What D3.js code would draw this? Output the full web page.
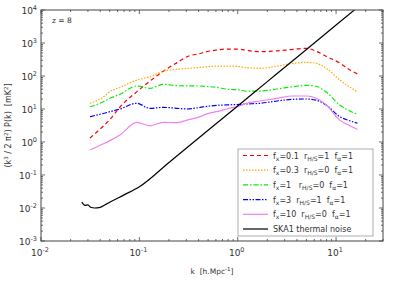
<!DOCTYPE html>
<html>
<head>
<meta charset="utf-8">
<script src="https://cdn.jsdelivr.net/npm/d3@7"></script>
<style>
body{margin:0;background:#fff;}
text{font-family:"DejaVu Sans",sans-serif;fill:#333;white-space:pre;}
</style>
</head>
<body>
<svg id="chart"></svg>
<script>
// k values (h/Mpc) shared by the model curves
var kModel = [0.0315,0.042,0.0502,0.0635,0.0939,0.128,0.175,0.24,0.305,0.415,0.486,0.61,0.776,1.05,1.23,1.68,2.51,3.65,5.0,6.3,8.0,10.9,13.5,16.5]

var fx01 = [1.32,2.85,4.8,11.5,33,70,140,250,385,480,547,610,656,645,600,547,575,645,690,560,390,247,160,115]
var fx03 = [14.9,22,33.4,45,75,95,140,160,170,182,190,200,200,192,180,171,200,241,260,241,171,75.6,48,33.4]
var fx1  = [11.7,16,21.1,28,49.8,42.4,56,51,50,49.8,48,45.4,40,37.7,35,35,40.4,47.4,52,49,32,13.2,9,6.9]
var fx3  = [5.85,7.2,8.3,10,14.9,10.5,11.2,10.5,10,11.2,12,12.9,13.3,13.8,14.2,14.9,17.5,19.7,20.1,18.5,13,5.85,4.5,3.7]
var fx10 = [0.57,0.85,1.1,1.63,3.95,3.1,3.95,3.85,4.6,5.85,7.1,8.3,10,12.5,14.9,17.5,21.1,24.8,24.8,21.1,13,4.6,3.2,2.43]

// SKA1 thermal noise
var kNoise = [0.026,0.028,0.030,0.032,0.035,0.040,0.045,0.05,0.07,0.1,0.2,0.5,1,2,5,10,20]
var noise  = [0.015,0.012,0.0125,0.0105,0.0100,0.0105,0.0125,0.015,0.025,0.044,0.24,2.27,12.4,67.7,639,3500,19100]

var seriesNames = ["fx=0.1","fx=0.3","fx=1","fx=3","fx=10","SKA1"]
var xTicks = [0.01,0.1,1,10]
var yTicks = [1e-3,1e-2,1e-1,1,10,100,1000,10000]

var screen = {width:399,height:282}
var margins = {left:41,right:16,top:10,bottom:41}
var graph = {
    width:screen.width-margins.left-margins.right,
    height:screen.height-margins.top-margins.bottom
}

var svg = d3.select("#chart")
    .attr("width",screen.width)
    .attr("height",screen.height)

var xScale = d3.scaleLog().domain([0.01,30]).range([0,graph.width])
var yScale = d3.scaleLog().domain([1e-3,1e4]).range([graph.height,0])

var target = svg.append("g")
    .attr("transform","translate("+margins.left+","+margins.top+")")

target.append("clipPath").attr("id","clip")
    .append("rect").attr("width",graph.width).attr("height",graph.height)

var line = d3.line()
    .x(function(d){return xScale(d[0])})
    .y(function(d){return yScale(d[1])})
    .curve(d3.curveMonotoneX)

var styles = [
    {name:seriesNames[0],k:kModel,v:fx01,color:"#ff0000",dash:"4,3"},
    {name:seriesNames[1],k:kModel,v:fx03,color:"#ffa500",dash:"1.5,1.5"},
    {name:seriesNames[2],k:kModel,v:fx1,color:"#00ee00",dash:"5,2,1.5,2"},
    {name:seriesNames[3],k:kModel,v:fx3,color:"#0000ff",dash:"5,1.5,1.5,1.5,1.5,1.5"},
    {name:seriesNames[4],k:kModel,v:fx10,color:"#ee82ee",dash:null},
    {name:seriesNames[5],k:kNoise,v:noise,color:"#000000",dash:null}
]

var curves = target.append("g").attr("clip-path","url(#clip)")
styles.forEach(function(s){
    var pts = s.k.map(function(k,i){return [k,s.v[i]]})
    curves.append("path")
        .attr("d",line(pts))
        .attr("fill","none")
        .attr("stroke",s.color)
        .attr("stroke-width",1.2)
        .attr("stroke-dasharray",s.dash)
})

// frame
target.append("rect")
    .attr("width",graph.width).attr("height",graph.height)
    .attr("fill","none").attr("stroke","#444").attr("stroke-width",1)

// minor + major ticks (inside, all four sides)
var xMinor = []
for(var e=-2;e<=1;e++){for(var m=1;m<10;m++){var v=m*Math.pow(10,e); if(v<=30) xMinor.push(v)}}
var yMinor = []
for(var e=-3;e<4;e++){for(var m=1;m<10;m++){yMinor.push(m*Math.pow(10,e))}}
yMinor.push(1e4)

var tickG = target.append("g").attr("stroke","#444").attr("stroke-width",0.8)
xMinor.forEach(function(v){
    var major = xTicks.some(function(t){return Math.abs(t-v)/t<1e-9})
    var len = major?4:2
    var x = xScale(v)
    tickG.append("line").attr("x1",x).attr("x2",x).attr("y1",graph.height).attr("y2",graph.height-len)
    tickG.append("line").attr("x1",x).attr("x2",x).attr("y1",0).attr("y2",len)
})
yMinor.forEach(function(v){
    var major = yTicks.some(function(t){return Math.abs(t-v)/t<1e-9})
    var len = major?4:2
    var y = yScale(v)
    tickG.append("line").attr("x1",0).attr("x2",len).attr("y1",y).attr("y2",y)
    tickG.append("line").attr("x1",graph.width).attr("x2",graph.width-len).attr("y1",y).attr("y2",y)
})

var addPow = function(sel,exp){
    sel.append("tspan").text("10")
    sel.append("tspan").attr("dy",-4).attr("font-size",6.5).text(exp)
}

xTicks.forEach(function(v){
    var t = target.append("text")
        .attr("x",xScale(v)-1).attr("y",graph.height+15)
        .attr("text-anchor","middle").attr("font-size",9)
    addPow(t,String(Math.round(Math.log10(v))))
})
yTicks.forEach(function(v){
    var t = target.append("text")
        .attr("x",-4).attr("y",yScale(v)+3.5)
        .attr("text-anchor","end").attr("font-size",9)
    addPow(t,String(Math.round(Math.log10(v))))
})

// axis labels
var xl = svg.append("text")
    .attr("x",margins.left+graph.width/2).attr("y",274)
    .attr("text-anchor","middle").attr("font-size",7.5)
xl.append("tspan").text("k  [h.Mpc")
xl.append("tspan").attr("dy",-3).attr("font-size",5.5).text("-1")
xl.append("tspan").attr("dy",3).text("]")

var yl = svg.append("text")
    .attr("transform","translate(11,"+(margins.top+graph.height/2)+") rotate(-90)")
    .attr("text-anchor","middle").attr("font-size",8)
yl.append("tspan").text("(k")
yl.append("tspan").attr("dy",-3).attr("font-size",5.5).text("3")
yl.append("tspan").attr("dy",3).text(" / 2 π")
yl.append("tspan").attr("dy",-3).attr("font-size",5.5).text("2")
yl.append("tspan").attr("dy",3).text(") P(k)  [mK")
yl.append("tspan").attr("dy",-3).attr("font-size",5.5).text("2")
yl.append("tspan").attr("dy",3).text("]")

svg.append("text").attr("x",52).attr("y",23).attr("font-size",7.5).text("z = 8")

// legend
var legendLabels = [
    ["0.1","1"],["0.3","0"],["1","0"],["3","1"],["10","0"]
]
var lg = svg.append("g").attr("transform","translate(238,149)")
lg.append("rect").attr("width",135).attr("height",87)
    .attr("fill","#fff").attr("stroke","#999").attr("stroke-width",0.8)
styles.forEach(function(s,i){
    var y = 6.5+i*14.7
    lg.append("line").attr("x1",5).attr("x2",30).attr("y1",y).attr("y2",y)
        .attr("stroke",s.color).attr("stroke-width",1.2).attr("stroke-dasharray",s.dash)
    var t = lg.append("text").attr("x",35).attr("y",y+3).attr("font-size",8)
    if(i<5){
        var gap = i==2?"   ":"  "
        t.append("tspan").text("f")
        t.append("tspan").attr("dy",2).attr("font-size",6).text("x")
        t.append("tspan").attr("dy",-2).text("="+legendLabels[i][0]+gap+"r")
        t.append("tspan").attr("dy",2).attr("font-size",6).text("H/S")
        t.append("tspan").attr("dy",-2).text("="+legendLabels[i][1]+"  f")
        t.append("tspan").attr("dy",2).attr("font-size",6).text("α")
        t.append("tspan").attr("dy",-2).text("=1")
    } else {
        t.text("SKA1 thermal noise")
    }
})
</script>
</body>
</html>
